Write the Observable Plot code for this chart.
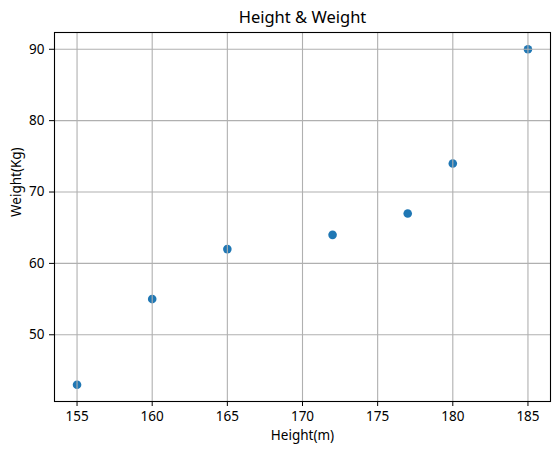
<!DOCTYPE html>
<html>
<head>
<meta charset="utf-8">
<script src="https://cdn.jsdelivr.net/npm/d3@7"></script>
<script src="https://cdn.jsdelivr.net/npm/@observablehq/plot@0.6"></script>
<style>
  html, body { margin: 0; padding: 0; background: #fff; }
</style>
</head>
<body>
<div id="chart"></div>
<script>
const heights = [155, 160, 165, 172, 177, 180, 185];
const weights = [43, 55, 62, 64, 67, 74, 90];
const xTicks = [155, 160, 165, 170, 175, 180, 185];
const yTicks = [50, 60, 70, 80, 90];
const titleText = "Height & Weight";
const xLabel = "Height(m)";
const yLabel = "Weight(Kg)";

const data = heights.map((h, i) => ({ h, w: weights[i] }));
const font = "'Noto Sans', 'DejaVu Sans', sans-serif";

const chart = Plot.plot({
  width: 559,
  height: 452,
  marginLeft: 54,
  marginRight: 9,
  marginTop: 32,
  marginBottom: 51,
  style: { fontFamily: font, fontSize: "13.5px", background: "#fff", color: "#000" },
  x: { domain: [153.5, 186.5] },
  y: { domain: [40.65, 92.35] },
  marks: [
    Plot.dot(data, { x: "h", y: "w", r: 4.3, fill: "#1f77b4", stroke: null }),
    Plot.gridX(xTicks, { stroke: "#b0b0b0", strokeOpacity: 1, strokeWidth: 1.1 }),
    Plot.gridY(yTicks, { stroke: "#b0b0b0", strokeOpacity: 1, strokeWidth: 1.1 }),
    Plot.frame({ stroke: "#000", strokeWidth: 1.1 }),
    Plot.axisX(xTicks, { tickSize: 5, tickPadding: 5, label: null, fontSize: 13.5, tickFormat: d => String(d) }),
    Plot.axisY(yTicks, { tickSize: 5, tickPadding: 5, label: null, fontSize: 13.5, tickFormat: d => String(d) }),
    Plot.text([titleText], { frameAnchor: "top", lineAnchor: "middle", dy: -15, fontSize: 16.5, fill: "#000" }),
    Plot.text([xLabel], { frameAnchor: "bottom", lineAnchor: "middle", dy: 34, fontSize: 13.5, fill: "#000" }),
    Plot.text([yLabel], { frameAnchor: "left", lineAnchor: "middle", dx: -38, rotate: -90, fontSize: 13.5, fill: "#000" })
  ]
});
document.getElementById("chart").appendChild(chart);
</script>
</body>
</html>
